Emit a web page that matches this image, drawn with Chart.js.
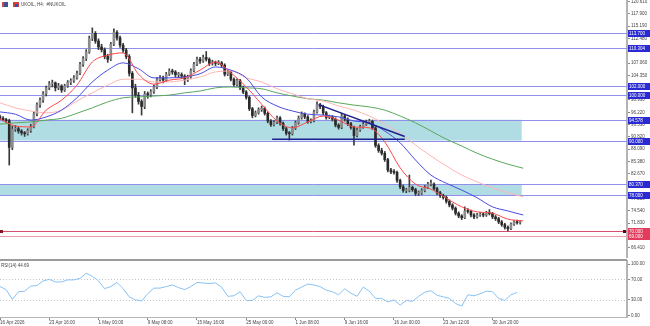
<!DOCTYPE html>
<html>
<head>
<meta charset="utf-8">
<title>UKOIL H4</title>
<script src="https://cdn.jsdelivr.net/npm/chart.js@4.4.1/dist/chart.umd.min.js"></script>
<style>
  body { margin: 0; background: #fff; }
  #wrap { position: relative; width: 650px; height: 326px; overflow: hidden; }
  canvas { position: absolute; left: 0; }
  #priceChart { top: 0; }
  #rsiChart { top: 258px; }
</style>
</head>
<body>
<div id="wrap">
  <canvas id="priceChart" width="650" height="258"></canvas>
  <canvas id="rsiChart" width="650" height="68"></canvas>
</div>
<script>
// H4 candles (one bar here = two H4 bars of the screenshot)
const opens = [95.3,94.9,94.6,94.4,88.5,92.5,92.6,92.1,91.7,91.5,
  92.2,93.0,95.9,97.9,98.9,100.3,101.6,102.5,102.7,101.6,
  102.0,101.1,102.0,102.8,103.2,103.8,104.8,106.8,108.0,109.5,
  112.5,113.6,111.9,110.6,110.0,108.5,107.9,111.2,113.8,112.6,
  111.0,109.9,108.5,104.8,101.6,100.0,98.6,97.5,100.2,100.1,
  100.8,101.8,103.4,103.8,103.3,104.6,105.3,105.1,104.5,104.5,
  104.2,103.5,104.0,105.4,106.8,107.9,107.5,108.3,107.9,107.0,
  107.2,107.0,107.1,106.6,104.6,105.0,103.5,102.3,103.2,101.6,
  100.7,99.5,97.0,95.5,96.1,96.8,97.1,96.0,94.3,93.5,
  94.0,95.0,93.8,92.6,91.6,91.5,92.7,93.9,95.0,95.8,
  95.2,94.2,94.4,96.3,97.9,97.5,96.1,95.1,95.2,94.7,
  93.4,92.9,95.4,94.7,93.7,92.9,91.1,92.3,93.0,93.6,
  94.1,94.2,92.8,88.9,87.8,87.2,85.8,83.5,83.1,83.0,
  81.2,79.8,79.0,79.0,79.7,79.2,78.4,78.4,79.0,79.7,
  80.4,80.4,79.4,78.5,77.9,77.5,76.6,75.8,75.1,74.0,
  73.4,73.0,74.5,74.4,73.6,73.2,73.6,73.8,73.6,74.0,
  73.9,73.2,72.8,72.1,71.5,70.9,70.6,71.6,72.1,71.9];
const highs = [95.6,95.3,94.9,94.7,93.2,93.3,92.9,92.4,92.0,92.6,
  93.6,96.4,98.3,99.4,100.8,102.0,103.0,103.3,102.9,102.6,
  102.3,102.4,103.2,103.6,104.3,105.3,107.2,108.5,110.0,113.0,
  114.8,114.0,112.4,111.2,110.4,109.0,111.6,114.6,114.2,113.0,
  111.4,110.3,108.9,105.2,102.4,100.6,99.0,100.8,100.7,101.2,
  102.2,103.8,104.3,104.2,105.0,105.8,105.7,105.4,105.0,104.9,
  104.5,104.4,105.8,107.2,108.4,108.3,108.8,109.6,108.2,107.7,
  107.5,107.6,107.4,106.9,105.5,105.3,103.8,103.6,103.5,102.0,
  101.0,99.8,97.3,96.5,97.2,97.6,97.4,96.3,94.6,94.4,
  95.4,95.3,94.1,92.9,92.0,93.1,94.3,95.4,96.3,96.1,
  95.5,94.8,96.7,98.5,98.2,97.8,96.4,95.6,95.5,95.0,
  93.7,96.0,95.7,95.0,94.0,93.2,92.7,93.4,94.0,94.5,
  94.7,94.5,93.1,89.3,88.3,87.6,86.1,83.9,83.6,83.3,
  81.5,80.2,79.5,82.4,80.0,79.5,78.9,79.4,80.1,80.8,
  81.3,80.7,79.7,78.8,78.2,77.8,76.9,76.1,75.4,74.3,
  73.7,75.4,75.0,74.7,73.9,74.0,74.2,74.1,74.4,74.8,
  74.2,73.5,73.1,72.4,71.8,71.2,71.9,72.4,72.5,72.4];
const lows = [94.6,94.3,94.0,84.6,88.0,92.0,91.6,91.2,90.9,91.2,
  91.8,92.8,95.4,97.3,98.4,99.8,101.2,101.8,100.9,101.2,
  100.6,100.8,101.7,102.3,102.8,103.5,104.5,106.3,107.6,109.2,
  112.0,111.4,110.0,109.5,108.0,107.2,107.6,110.9,112.1,110.5,
  109.4,108.0,104.2,96.1,99.5,98.0,95.6,97.0,99.3,99.6,
  100.4,101.4,103.0,102.7,103.0,104.3,104.6,104.0,104.0,103.7,
  102.3,103.0,103.7,105.1,106.5,107.0,107.2,107.5,106.5,106.6,
  106.5,106.7,106.2,104.2,104.3,103.1,101.9,102.0,101.2,100.3,
  99.1,96.6,95.0,95.2,95.8,96.4,95.6,93.9,93.1,93.2,
  93.7,93.4,92.2,91.2,90.1,91.2,92.4,93.6,94.7,94.8,
  93.8,93.9,94.1,96.0,97.0,95.7,94.7,94.8,94.3,93.0,
  92.5,92.6,94.3,93.3,92.5,89.0,90.8,92.0,92.7,93.3,
  93.7,92.4,88.5,87.4,86.8,85.4,83.1,82.7,82.6,80.8,
  79.4,78.6,78.5,78.7,78.8,77.9,77.9,78.1,78.7,79.4,
  80.0,79.0,78.1,77.5,77.1,76.2,75.4,74.7,73.6,73.0,
  72.6,72.8,74.0,73.2,72.8,72.9,73.3,73.2,73.3,73.6,
  72.8,72.4,71.7,71.1,70.5,70.1,70.4,71.3,71.6,71.6];
const closes = [94.9,94.6,94.4,88.5,92.5,92.6,92.1,91.7,91.5,92.2,
  93.0,95.9,97.9,98.9,100.3,101.6,102.5,102.7,101.6,102.0,
  101.1,102.0,102.8,103.2,103.8,104.8,106.8,108.0,109.5,112.5,
  113.6,111.9,110.6,110.0,108.5,107.9,111.2,113.8,112.6,111.0,
  109.9,108.5,104.8,101.6,100.0,98.6,97.5,100.2,100.1,100.8,
  101.8,103.4,103.8,103.3,104.6,105.3,105.1,104.5,104.5,104.2,
  103.5,104.0,105.4,106.8,107.9,107.5,108.3,107.9,107.0,107.2,
  107.0,107.1,106.6,104.6,105.0,103.5,102.3,103.2,101.6,100.7,
  99.5,97.0,95.5,96.1,96.8,97.1,96.0,94.3,93.5,94.0,
  95.0,93.8,92.6,91.6,91.5,92.7,93.9,95.0,95.8,95.2,
  94.2,94.4,96.3,97.9,97.5,96.1,95.1,95.2,94.7,93.4,
  92.9,95.4,94.7,93.7,92.9,91.1,92.3,93.0,93.6,94.1,
  94.2,92.8,88.9,87.8,87.2,85.8,83.5,83.1,83.0,81.2,
  79.8,79.0,79.0,79.7,79.2,78.4,78.4,79.0,79.7,80.4,
  80.4,79.4,78.5,77.9,77.5,76.6,75.8,75.1,74.0,73.4,
  73.0,74.5,74.4,73.6,73.2,73.6,73.8,73.6,74.0,73.9,
  73.2,72.8,72.1,71.5,70.9,70.6,71.6,72.1,71.9,72.1];

// moving averages, read every 5 bars
const maStep = 5;
const maFast = [94.75,93.2,93.0,96.7,98.9,102.2,107.3,108.8,109.3,104.6,102.4,103.3,103.8,105.5,107.3,104.9,101.8,98.0,94.3,92.8,94.1,95.4,94.5,93.0,92.8,89.7,84.0,80.4,79.3,77.3,75.4,74.3,74.0,72.7,72.3];
const maMid = [96.3,95.8,94.5,95.2,96.7,99.4,102.9,105.5,107.1,105.8,103.8,103.8,104.0,104.7,106.2,105.5,103.8,99.6,97.6,96.5,95.8,95.6,95.2,94.3,93.9,92.1,89.5,85.7,82.4,80.6,79.1,77.4,75.4,74.5,73.6];
const maSlow = [98.3,97.2,96.5,96.1,96.7,98.7,100.5,102.2,103.5,103.5,102.9,102.9,103.3,104.0,105.1,105.3,103.8,102.9,101.4,100.3,99.2,98.7,97.6,96.7,95.4,93.6,91.6,89.0,86.6,84.4,82.4,80.9,79.6,78.5,77.6];
const maTrend = [93.6,93.9,94.1,94.5,94.9,96.0,97.2,98.5,99.4,99.6,99.8,100.0,100.5,100.9,101.6,101.8,101.6,101.4,100.5,99.8,99.2,98.9,98.3,97.8,97.4,96.7,95.4,93.9,92.1,90.3,88.8,87.2,85.9,84.8,83.9];

// RSI(14), read every 2 bars
const rsiStep = 2;
const rsi = [56,50,31,46,47,57,58,67,70,65,
  65,69,69,72,82,76,67,52,56,64,
  52,36,30,28,42,53,53,56,59,54,
  50,56,64,63,62,63,55,37,38,46,
  29,29,38,35,36,44,37,36,49,55,
  61,59,56,49,46,40,52,43,37,55,
  47,33,33,26,30,20,29,27,37,45,
  48,39,36,33,23,18,40,38,42,47,
  46,33,29,40,44.69];

// drawn objects
const blueLevels = [113.7, 110.304, 102.0, 100.0, 94.578, 90.0, 80.37, 78.0];
const redLevels = [70.0, 69.0];
const zoneTops = [94.578, 80.37];
const zoneBottoms = [90.0, 78.0];
const trendX = [103.5, 131.5];
const trendY = [97.9, 90.9];
const supportX = [88.4, 131.5];
const supportY = [90.27, 90.27];

// axes
const priceTicks = [120.61,117.9,115.19,112.48,109.77,107.06,104.35,101.64,98.93,96.22,93.53,90.82,88.09,85.38,82.67,79.96,77.25,74.54,71.83,69.12,66.41];
const rsiTicks = [100, 70, 30, 0];
const rsiLevels = [70, 30];
const labelStep = 16;
const timeLabels = ["16 Apr 2026","23 Apr 16:00","1 May 00:00","9 May 08:00","15 May 16:00","25 May 00:00","1 Jun 08:00","9 Jun 16:00","16 Jun 00:00","23 Jun 12:00","30 Jun 20:00"];

const xMax = 203.7;
const axisWidth = 23;

Chart.defaults.font.family = "'Liberation Sans', Arial, sans-serif";
Chart.defaults.font.size = 4.5;
Chart.defaults.color = '#333';

const candleColors = closes.map((c, i) => c >= opens[i] ? '#8c8c8c' : '#2a2a2a');

function lineSet(values, step, color) {
  return {
    type: 'line',
    data: values.map((v, k) => ({ x: k * step, y: v })),
    borderColor: color,
    borderWidth: 1,
    pointRadius: 0,
    cubicInterpolationMode: 'monotone'
  };
}

// zones, level lines, price boxes and title
const priceDecor = {
  id: 'priceDecor',
  beforeDatasetsDraw(chart) {
    const { ctx, chartArea, scales: { x, y } } = chart;
    ctx.save();
    const zoneEnd = x.getPixelForValue(closes.length - 0.5);
    ctx.fillStyle = '#b0dde4';
    zoneTops.forEach((top, i) => {
      const y0 = y.getPixelForValue(top);
      const y1 = y.getPixelForValue(zoneBottoms[i]);
      ctx.fillRect(chartArea.left, y0, zoneEnd - chartArea.left, y1 - y0);
    });
    ctx.lineWidth = 1;
    blueLevels.forEach(v => {
      const py = Math.round(y.getPixelForValue(v)) + 0.5;
      ctx.strokeStyle = '#9090ec';
      ctx.beginPath(); ctx.moveTo(chartArea.left, py); ctx.lineTo(chartArea.right, py); ctx.stroke();
    });
    redLevels.forEach((v, i) => {
      const py = Math.round(y.getPixelForValue(v)) + 0.5;
      ctx.strokeStyle = i === 0 ? '#d9506e' : '#ee98ac';
      ctx.beginPath(); ctx.moveTo(chartArea.left, py); ctx.lineTo(chartArea.right, py); ctx.stroke();
    });
    ctx.restore();
  },
  afterDraw(chart) {
    const { ctx, chartArea, scales: { y } } = chart;
    ctx.save();
    ctx.font = "4.5px 'Liberation Sans', Arial, sans-serif";
    ctx.textBaseline = 'middle';
    const boxX = chartArea.right + 1;
    blueLevels.forEach(v => {
      const py = Math.round(y.getPixelForValue(v));
      ctx.fillStyle = '#2a2ad2';
      ctx.fillRect(boxX, py - 3, 22, 7);
      ctx.fillStyle = '#fff';
      ctx.fillText(v.toFixed(3), boxX + 1, py + 0.5);
    });
    redLevels.forEach(v => {
      const py = Math.round(y.getPixelForValue(v));
      ctx.fillStyle = '#e23b5c';
      ctx.fillRect(boxX, py - 3, 22, 7);
    });
    ctx.fillStyle = '#fff';
    redLevels.forEach(v => {
      const py = Math.round(y.getPixelForValue(v));
      ctx.fillText(v.toFixed(3), boxX + 1, py + 0.5);
    });
    // current price markers on the red line
    const my = Math.round(y.getPixelForValue(redLevels[0]));
    ctx.fillStyle = '#4a0810';
    ctx.fillRect(chartArea.right - 4, my - 1, 3, 3);
    ctx.fillStyle = '#8a1424';
    ctx.fillRect(chartArea.left, my - 1, 3, 3);
    // title with the two toolbar icons
    ctx.fillStyle = '#3d4f96';
    ctx.fillRect(2, 2, 6, 5);
    ctx.fillStyle = '#c94848';
    ctx.fillRect(2, 2, 2, 5);
    ctx.fillStyle = '#d24040';
    ctx.fillRect(13, 2, 6, 5);
    ctx.fillStyle = '#3050c0';
    ctx.fillRect(15, 4, 3, 3);
    ctx.fillStyle = '#444';
    ctx.fillText('UKOIL, H4:  #NUKOIL', 21, 5);
    ctx.restore();
  }
};

new Chart(document.getElementById('priceChart'), {
  type: 'bar',
  data: {
    datasets: [
      { type: 'line', data: trendX.map((x, i) => ({ x, y: trendY[i] })), borderColor: '#1f1f8f', borderWidth: 1.5, pointRadius: 0 },
      { type: 'line', data: supportX.map((x, i) => ({ x, y: supportY[i] })), borderColor: '#1f1f8f', borderWidth: 1.5, pointRadius: 0 },
      lineSet(maFast, maStep, '#ff4848'),
      lineSet(maMid, maStep, '#4a4ae0'),
      lineSet(maSlow, maStep, '#ffb4b4'),
      lineSet(maTrend, maStep, '#5aa85a'),
      {
        data: closes.map((c, i) => ({ x: i, y: [opens[i], c] })),
        backgroundColor: candleColors,
        barThickness: 2,
        minBarLength: 1,
        grouped: false
      },
      {
        data: highs.map((h, i) => ({ x: i, y: [lows[i], h] })),
        backgroundColor: '#3a3a3a',
        barThickness: 1,
        grouped: false
      }
    ]
  },
  options: {
    responsive: false,
    animation: false,
    events: [],
    devicePixelRatio: 1,
    plugins: { legend: { display: false }, tooltip: { enabled: false } },
    scales: {
      x: { type: 'linear', min: 0, max: xMax, offset: false, display: false },
      y: {
        position: 'right',
        min: 64.14,
        max: 120.94,
        afterBuildTicks: s => { s.ticks = priceTicks.map(v => ({ value: v })); },
        afterFit: s => { s.width = axisWidth; s.paddingTop = 0; s.paddingBottom = 0; },
        ticks: { autoSkip: false, padding: 1, color: '#444', callback: v => v.toFixed(3) },
        grid: { drawOnChartArea: false, tickLength: 3, color: '#8a8a8a' },
        border: { color: '#b4b4b4', width: 2 }
      }
    }
  },
  plugins: [priceDecor]
});

// RSI pane: separator, dotted levels and caption
const rsiDecor = {
  id: 'rsiDecor',
  beforeDatasetsDraw(chart) {
    const { ctx, chartArea, scales: { y } } = chart;
    ctx.save();
    ctx.strokeStyle = '#c4c4c4';
    ctx.lineWidth = 1;
    ctx.setLineDash([1, 2]);
    rsiLevels.forEach(v => {
      const py = Math.round(y.getPixelForValue(v)) + 0.5;
      ctx.beginPath(); ctx.moveTo(chartArea.left, py); ctx.lineTo(chartArea.right, py); ctx.stroke();
    });
    ctx.restore();
  },
  afterDraw(chart) {
    const { ctx, chartArea } = chart;
    ctx.save();
    ctx.fillStyle = '#9c9c9c';
    ctx.fillRect(0, 1, chartArea.right, 2);
    ctx.font = "4.5px 'Liberation Sans', Arial, sans-serif";
    ctx.textBaseline = 'middle';
    ctx.fillStyle = '#444';
    ctx.fillText('RSI(14) ' + rsi[rsi.length - 1].toFixed(2), 1, 7.5);
    ctx.restore();
  }
};

new Chart(document.getElementById('rsiChart'), {
  type: 'line',
  data: {
    datasets: [{
      data: rsi.map((v, k) => ({ x: k * rsiStep, y: v })),
      borderColor: '#88c2f6',
      borderWidth: 1,
      pointRadius: 0,
      tension: 0
    }]
  },
  options: {
    responsive: false,
    animation: false,
    events: [],
    devicePixelRatio: 1,
    layout: { padding: { top: 3 } },
    plugins: { legend: { display: false }, tooltip: { enabled: false } },
    scales: {
      x: {
        type: 'linear',
        min: 0,
        max: xMax,
        afterBuildTicks: s => { s.ticks = timeLabels.map((_, k) => ({ value: k * labelStep })); },
        afterFit: s => { s.height = 9; s.paddingLeft = 0; s.paddingRight = 0; },
        ticks: { autoSkip: false, maxRotation: 0, align: 'start', padding: 0, color: '#444', callback: (v, i) => timeLabels[i] },
        grid: { drawOnChartArea: false, tickLength: 3, color: '#8a8a8a' },
        border: { color: '#b4b4b4' }
      },
      y: {
        position: 'right',
        min: -3.3,
        max: 105.85,
        afterBuildTicks: s => { s.ticks = rsiTicks.map(v => ({ value: v })); },
        afterFit: s => { s.width = axisWidth; s.paddingTop = 0; s.paddingBottom = 0; },
        ticks: { autoSkip: false, padding: 1, color: '#444', callback: v => v.toFixed(2) },
        grid: { drawOnChartArea: false, tickLength: 3, color: '#8a8a8a' },
        border: { color: '#b4b4b4', width: 2 }
      }
    }
  },
  plugins: [rsiDecor]
});
</script>
</body>
</html>
